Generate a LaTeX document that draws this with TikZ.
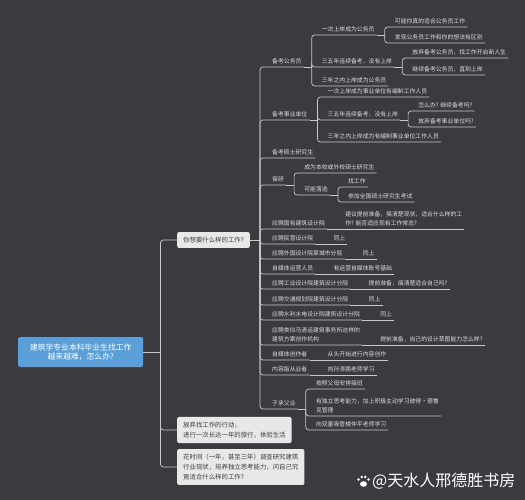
\documentclass[tikz,border=0pt]{standalone}
\usepackage{fontspec}
\setmainfont{Noto Sans CJK SC}
\usetikzlibrary{calc}
\definecolor{bg}{HTML}{3A3B3F}
\definecolor{lnk}{HTML}{C9C9C9}
\definecolor{txt}{HTML}{DDDDDD}
\definecolor{boxfill}{HTML}{E8E8E8}
\definecolor{boxtext}{HTML}{3C3C3C}
\definecolor{rootfill}{HTML}{5A9FD8}
\tikzset{
  topic/.style={anchor=south west, font=\fontsize{5.85}{9.3}\selectfont, text=txt,
                inner xsep=2pt, inner ysep=2.4pt, align=left},
  box/.style={anchor=west, fill=boxfill, rounded corners=2pt, text=boxtext,
              font=\fontsize{6.4}{10}\selectfont, inner xsep=6pt, inner ysep=5pt, align=left},
  rootbox/.style={anchor=west, fill=rootfill, rounded corners=2pt, text=white,
                  font=\fontsize{7.8}{9.6}\selectfont, minimum width=125pt,
                  minimum height=30pt, align=center},
  link/.style={draw=lnk, line width=0.7pt, rounded corners=3pt}
}
\begin{document}
\begin{tikzpicture}[x=1pt,y=-1pt]
\fill[bg] (0,0) rectangle (525,500);
\useasboundingbox (0,0) rectangle (525,500);

% root and first level
\node[rootbox] (root) at (18,352) {建筑学专业本科毕业生找工作\\越来越难，怎么办?};
\node[box] (ask) at (177,240) {你想要什么样的工作?};
\node[box] (trip) at (177,430) {放弃找工作的行动，\\进行一次长达一年的旅行，体验生活};
\node[box] (study) at (177,467) {花时间（一年，甚至三年）调查研究建筑\\行业现状，培养独立思考能力，问自己究\\竟适合什么样的工作?};
\coordinate (rootj) at ($(root.east)+(17,0)$);
\draw[link] (root) -- (rootj);
\foreach \b in {ask,trip,study} \draw[link] (rootj) |- (\b.west);

% second level
\node[topic] (gwy) at (270,67) {备考公务员};
\node[topic] (sydw) at (270,120) {备考事业单位};
\node[topic] (kaoyan) at (270,158) {备考硕士研究生};
\node[topic] (baoyan) at (270,185) {保研};
\node[topic] (guoyou) at (270,229) {应聘国有建筑设计院};
\node[topic] (minying) at (270,244) {应聘民营设计院};
\node[topic] (waiguo) at (270,259) {应聘外国设计院某城市分院};
\node[topic] (zmty) at (270,274) {自媒体运营人员};
\node[topic] (gongye) at (270,289) {应聘工业设计院建筑设计分院};
\node[topic] (jiaotong) at (270,305) {应聘交通规划院建筑设计分院};
\node[topic] (shuili) at (270,320) {应聘水利水电设计院建筑设计分院};
\node[topic] (fangan) at (270,345) {应聘类似马清运建筑事务所这样的\\建筑方案创作机构};
\node[topic] (zmtc) at (270,360) {自媒体创作者};
\node[topic] (neirong) at (270,375) {内容版从业者};
\node[topic] (zcfy) at (270,409) {子承父业};
\coordinate (askj) at ($(ask.east)+(10,0)$);
\draw[link] (ask) -- (askj);
\foreach \n in {gwy,sydw,kaoyan,baoyan,guoyou,minying,waiguo,zmty,gongye,jiaotong,shuili,fangan,zmtc,neirong,zcfy}
  \draw[link] (askj) |- (\n.south west) -- (\n.south east);

% 备考公务员
\node[topic] (gwyA) at ($(gwy.south east)+(16,-32)$) {一次上岸成为公务员};
\node[topic] (gwyB) at ($(gwy.south east)+(16,0)$) {三五年连续备考，没有上岸};
\node[topic] (gwyC) at ($(gwy.south east)+(16,19)$) {三年之内上岸成为公务员};
\node[topic] (gwyA1) at ($(gwyA.south east)+(16,-8)$) {可能你真的适合公务员工作};
\node[topic] (gwyA2) at ($(gwyA.south east)+(16,8)$) {发现公务员工作和你的想法有区别};
\node[topic] (gwyB1) at ($(gwyB.south east)+(16,-9)$) {放弃备考公务员，找工作开启新人生};
\node[topic] (gwyB2) at ($(gwyB.south east)+(16,8)$) {继续备考公务员，直到上岸};

% 备考事业单位
\node[topic] (sydwA) at ($(sydw.south east)+(16,-23)$) {一次上岸成为事业单位有编制工作人员};
\node[topic] (sydwB) at ($(sydw.south east)+(16,0)$) {三五年连续备考，没有上岸};
\node[topic] (sydwC) at ($(sydw.south east)+(16,22)$) {三年之内上岸成为有编制事业单位工作人员};
\node[topic] (sydwB1) at ($(sydwB.south east)+(16,-9)$) {怎么办? 继续备考吗?};
\node[topic] (sydwB2) at ($(sydwB.south east)+(16,7)$) {放弃备考事业单位吗?};

% 保研
\node[topic] (baoyanA) at ($(baoyan.south east)+(16,-12)$) {成为本校或外校硕士研究生};
\node[topic] (baoyanB) at ($(baoyan.south east)+(16,10)$) {可能落选};
\node[topic] (baoyanB1) at ($(baoyanB.south east)+(16,-8)$) {找工作};
\node[topic] (baoyanB2) at ($(baoyanB.south east)+(16,7)$) {参加全国硕士研究生考试};

% 子承父业
\node[topic] (zcfyA) at ($(zcfy.south east)+(16,-20)$) {按照父母安排接班};
\node[topic] (zcfyB) at ($(zcfy.south east)+(16,7)$) {有独立思考能力，加上积极主动学习彼得·德鲁\\克管理};
\node[topic] (zcfyC) at ($(zcfy.south east)+(16,21)$) {向双童吸管楼仲平老师学习};

\foreach \p/\cs in {gwy/{gwyA,gwyB,gwyC}, gwyA/{gwyA1,gwyA2}, gwyB/{gwyB1,gwyB2},
                   sydw/{sydwA,sydwB,sydwC}, sydwB/{sydwB1,sydwB2},
                   baoyan/{baoyanA,baoyanB}, baoyanB/{baoyanB1,baoyanB2},
                   zcfy/{zcfyA,zcfyB,zcfyC}} {
  \coordinate (\p j) at ($(\p.south east)+(8,0)$);
  \draw[link] (\p.south east) -- (\p j);
  \foreach \c in \cs \draw[link] (\p j) |- (\c.south west) -- (\c.south east);
}

% single notes on the same line
\node[topic] (guoyouA) at ($(guoyou.south east)+(16,0)$) {建议提前准备，搞清楚现状，适合什么样的工\\作? 能否适应现有工作常态?};
\node[topic] (minyingA) at ($(minying.south east)+(16,0)$) {同上};
\node[topic] (waiguoA) at ($(waiguo.south east)+(16,0)$) {同上};
\node[topic] (zmtyA) at ($(zmty.south east)+(16,0)$) {有运营自媒体账号基础};
\node[topic] (gongyeA) at ($(gongye.south east)+(16,0)$) {提前准备，搞清楚适合自己吗?};
\node[topic] (jiaotongA) at ($(jiaotong.south east)+(16,0)$) {同上};
\node[topic] (shuiliA) at ($(shuili.south east)+(16,0)$) {同上};
\node[topic] (fanganA) at ($(fangan.south east)+(16,0)$) {提前准备，自己的设计草图能力怎么样?};
\node[topic] (zmtcA) at ($(zmtc.south east)+(16,0)$) {从头开始进行内容创作};
\node[topic] (neirongA) at ($(neirong.south east)+(16,0)$) {向孙淯鹏老师学习};
\foreach \p in {guoyou,minying,waiguo,zmty,gongye,jiaotong,shuili,fangan,zmtc,neirong}
  \draw[link] (\p.south east) -- (\p A.south east);

% watermark
\fill[white] (363.5,484) ellipse (3.4 and 2.8);
\foreach \tx/\ty in {358.5/479.5, 361.8/477, 365.3/477, 368.5/479.5} \fill[white] (\tx,\ty) circle (1.4);
\node[anchor=west, inner sep=0pt, font=\fontsize{16}{16}\selectfont, text=white] (mark) at (372,481) {@天水人邢德胜书房};
\end{tikzpicture}
\end{document}
